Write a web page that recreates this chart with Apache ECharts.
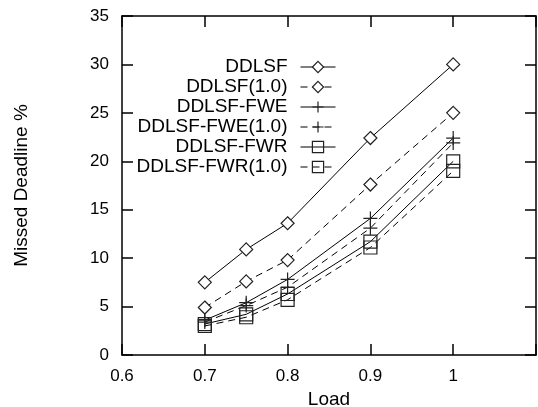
<!DOCTYPE html>
<html>
<head>
<meta charset="utf-8">
<script src="https://cdn.jsdelivr.net/npm/echarts@6/dist/echarts.min.js"></script>
<style>
  html, body { margin: 0; padding: 0; background: #fff; }
  #chart { width: 538px; height: 407px; }
</style>
</head>
<body>
<div id="chart"></div>
<script>
// load values on the x axis
var loads = [0.7, 0.75, 0.8, 0.9, 1.0];

// missed deadline % per scheme
var ddlsf      = [7.5, 10.9, 13.6, 22.4, 30.0];
var ddlsf10    = [4.9, 7.6, 9.8, 17.6, 25.0];
var ddlsfFwe   = [3.6, 5.4, 7.8, 14.1, 22.4];
var ddlsfFwe10 = [3.4, 5.1, 7.0, 13.1, 21.9];
var ddlsfFwr   = [3.2, 4.2, 6.3, 11.7, 20.0];
var ddlsfFwr10 = [3.0, 3.9, 5.7, 11.1, 19.0];

var seriesNames = ['DDLSF', 'DDLSF(1.0)', 'DDLSF-FWE', 'DDLSF-FWE(1.0)', 'DDLSF-FWR', 'DDLSF-FWR(1.0)'];

var font = '"Liberation Sans", Arial, sans-serif';
var plusPath = 'path://M0,5L10,5M5,0L5,10';

function pairs(vals) {
  return loads.map(function (x, i) { return [x, vals[i]]; });
}

function makeSeries(name, vals, dashed, symbol, size, fill) {
  return {
    name: name,
    type: 'line',
    data: pairs(vals),
    symbol: symbol,
    symbolSize: size,
    showAllSymbol: true,
    lineStyle: {
      color: '#000',
      width: 1,
      type: dashed ? [7, 5] : 'solid'
    },
    itemStyle: {
      color: fill,
      borderColor: '#222',
      borderWidth: 1.2
    },
    emphasis: { disabled: true }
  };
}

var chart = echarts.init(document.getElementById('chart'));

var tickStyle = { show: true, inside: true, length: 11, lineStyle: { color: '#000', width: 1.5 } };
var lineStyle = { show: true, onZero: false, lineStyle: { color: '#000', width: 1.5 } };

var option = {
  animation: false,
  backgroundColor: '#fff',
  textStyle: { fontFamily: font, color: '#000' },
  grid: { left: 122, right: 2, top: 16, bottom: 52, containLabel: false, outerBoundsMode: 'none' },
  legend: {
    orient: 'vertical',
    align: 'right',
    right: 197,
    top: 52,
    itemWidth: 35,
    itemHeight: 14,
    itemGap: 0,
    inactiveColor: '#000',
    lineStyle: { width: 1 },
    itemStyle: { borderWidth: 1.2, borderColor: '#222' },
    textStyle: { fontSize: 19, lineHeight: 20, color: '#000', fontFamily: font, padding: [0, 8, 0, 0] },
    data: seriesNames
  },
  xAxis: [{
    type: 'value',
    min: 0.6,
    max: 1.1,
    interval: 0.1,
    name: 'Load',
    nameLocation: 'middle',
    nameGap: 24,
    nameTextStyle: { fontSize: 19, color: '#000', fontFamily: font },
    axisLine: lineStyle,
    axisTick: tickStyle,
    splitLine: { show: false },
    axisLabel: {
      fontSize: 17,
      color: '#000',
      margin: 13,
      fontFamily: font,
      formatter: function (v) {
        if (v > 1.05) return '';
        return String(Math.round(v * 10) / 10);
      }
    }
  }, {
    type: 'value',
    position: 'top',
    min: 0.6,
    max: 1.1,
    interval: 0.1,
    axisLine: lineStyle,
    axisTick: tickStyle,
    splitLine: { show: false },
    axisLabel: { show: false }
  }],
  yAxis: [{
    type: 'value',
    min: 0,
    max: 35,
    interval: 5,
    name: 'Missed Deadline %',
    nameLocation: 'middle',
    nameGap: 91,
    nameTextStyle: { fontSize: 19, color: '#000', fontFamily: font },
    axisLine: lineStyle,
    axisTick: tickStyle,
    splitLine: { show: false },
    axisLabel: { fontSize: 17, color: '#000', margin: 13, fontFamily: font }
  }, {
    type: 'value',
    position: 'right',
    min: 0,
    max: 35,
    interval: 5,
    axisLine: lineStyle,
    axisTick: tickStyle,
    splitLine: { show: false },
    axisLabel: { show: false }
  }],
  series: [
    makeSeries('DDLSF', ddlsf, false, 'diamond', 13, '#fff'),
    makeSeries('DDLSF(1.0)', ddlsf10, true, 'diamond', 13, '#fff'),
    makeSeries('DDLSF-FWE', ddlsfFwe, false, plusPath, 14, 'none'),
    makeSeries('DDLSF-FWE(1.0)', ddlsfFwe10, true, plusPath, 14, 'none'),
    makeSeries('DDLSF-FWR', ddlsfFwr, false, 'rect', 13, 'rgba(0,0,0,0)'),
    makeSeries('DDLSF-FWR(1.0)', ddlsfFwr10, true, 'rect', 13, 'rgba(0,0,0,0)')
  ]
};

chart.setOption(option);
</script>
</body>
</html>
